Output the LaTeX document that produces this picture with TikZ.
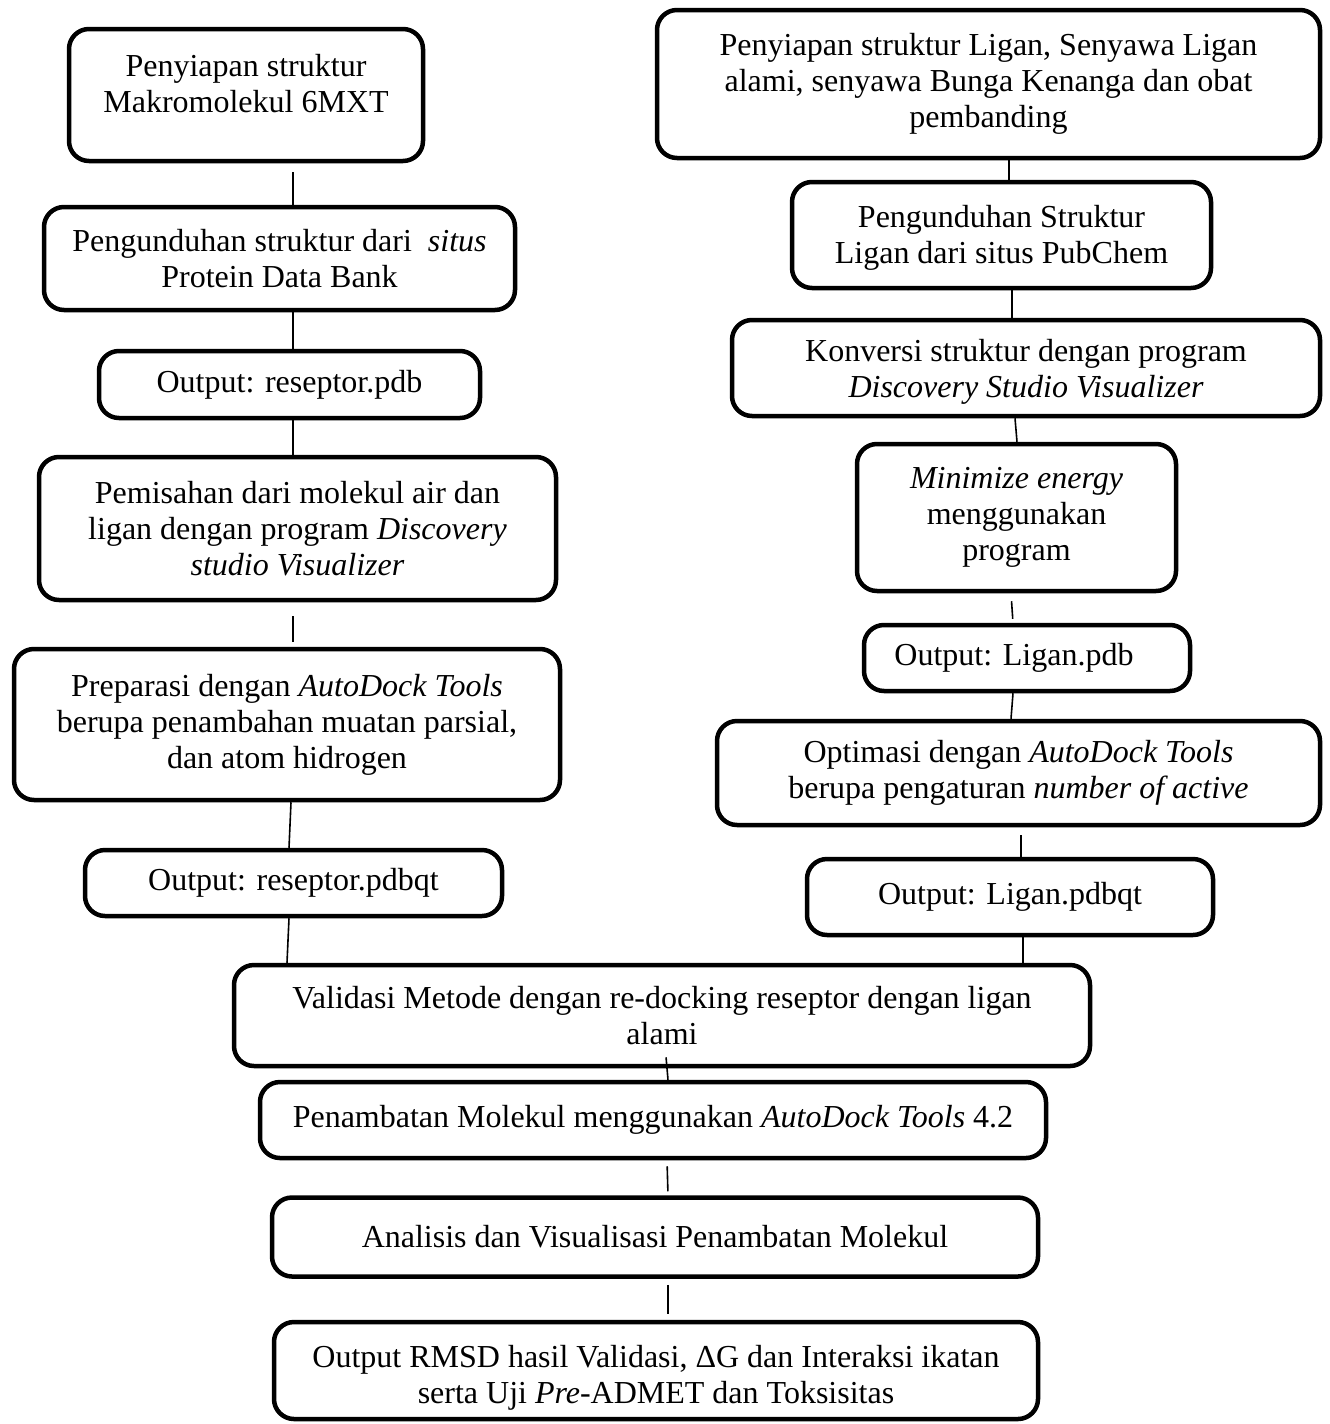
\documentclass[tikz,border=0pt]{standalone}
\usepackage{fontspec}
\setmainfont{Liberation Serif}
\usepackage{tikz}
\usetikzlibrary{positioning}

\begin{document}
\begin{tikzpicture}[
    x=1pt, y=-1pt,
    flowbox/.style={
        draw,
        rounded corners=20pt,
        line width=4.5pt,
        align=center,
        inner sep=0pt,
        font=\fontsize{32}{36}\selectfont
    },
    conn/.style={line width=1.6pt}
]
\useasboundingbox (0,0) rectangle (1330,1424);

% left column: receptor
\node[flowbox, minimum width=354, minimum height=132, text depth=24pt] (mak) at (246,95)
    {Penyiapan struktur\\Makromolekul 6MXT};
\node[flowbox, minimum width=471, minimum height=103] (pdbank) at (279.5,258.5)
    {Pengunduhan struktur dari \ \textit{situs}\\Protein Data Bank};
\node[flowbox, minimum width=381, minimum height=67] (respdb) at (289.5,384.5)
    {Output: reseptor.pdb};
\node[flowbox, minimum width=517, minimum height=143] (pisah) at (297.5,528.5)
    {Pemisahan dari molekul air dan\\ligan dengan program \textit{Discovery}\\\textit{studio Visualizer}};
\node[flowbox, minimum width=546, minimum height=151] (prep) at (287,724.5)
    {Preparasi dengan \textit{AutoDock Tools}\\berupa penambahan muatan parsial,\\dan atom hidrogen};
\node[flowbox, minimum width=417, minimum height=66] (respdbqt) at (293.5,883)
    {Output: reseptor.pdbqt};

% right column: ligand
\node[flowbox, minimum width=663, minimum height=148] (lig) at (988.5,84)
    {Penyiapan struktur Ligan, Senyawa Ligan\\alami, senyawa Bunga Kenanga dan obat\\pembanding};
\node[flowbox, minimum width=419, minimum height=106, text height=64pt] (pubchem) at (1001.5,235)
    {Pengunduhan Struktur\\Ligan dari situs PubChem};
\node[flowbox, minimum width=588, minimum height=96, text height=66pt] (konv) at (1026,368)
    {Konversi struktur dengan program\\\textit{Discovery Studio Visualizer}};
\node[flowbox, minimum width=319, minimum height=147] (mini) at (1016.5,517.5)
    {\textit{Minimize energy}\\menggunakan\\program};
\node[flowbox, minimum width=326, minimum height=66] (ligpdb) at (1027,658)
    {Output: Ligan.pdb\hspace*{26pt}};
\node[flowbox, minimum width=603, minimum height=104] (opt) at (1018.5,773)
    {Optimasi dengan \textit{AutoDock Tools}\\berupa pengaturan \textit{number of active}};
\node[flowbox, minimum width=406, minimum height=76] (ligpdbqt) at (1010,897)
    {Output: Ligan.pdbqt};

% bottom column
\node[flowbox, minimum width=856, minimum height=101] (valid) at (662,1015.5)
    {Validasi Metode dengan re-docking reseptor dengan ligan\\alami};
\node[flowbox, minimum width=786, minimum height=76] (tambat) at (653,1120)
    {Penambatan Molekul menggunakan \textit{AutoDock Tools} 4.2};
\node[flowbox, minimum width=766, minimum height=79] (anal) at (655,1237)
    {Analisis dan Visualisasi Penambatan Molekul};
\node[flowbox, minimum width=764, minimum height=97, text height=72pt] (hasil) at (656,1370.5)
    {Output RMSD hasil Validasi, ΔG dan Interaksi ikatan\\serta Uji \textit{Pre}-ADMET dan Toksisitas};

% connectors
\draw[conn, shorten <=9pt] (mak.south -| 293,0) -- (pdbank.north -| 293,0);
\draw[conn] (pdbank.south -| 293,0) -- (respdb.north -| 293,0);
\draw[conn] (respdb.south -| 293,0) -- (pisah.north -| 293,0);
\draw[conn, shorten <=14pt, shorten >=5pt] (pisah.south -| 293,0) -- (prep.north -| 293,0);
\draw[conn] (prep.south -| 291,0) -- (respdbqt.north -| 289,0);
\draw[conn] (respdbqt.south -| 289,0) -- (valid.north -| 287,0);

\draw[conn] (lig.south -| 1009,0) -- (pubchem.north -| 1009,0);
\draw[conn] (pubchem.south -| 1012,0) -- (konv.north -| 1012,0);
\draw[conn] (konv.south -| 1015,0) -- (mini.north -| 1017,0);
\draw[conn, shorten <=8pt, shorten >=4pt] (mini.south -| 1011,0) -- (ligpdb.north -| 1013,0);
\draw[conn] (ligpdb.south -| 1013,0) -- (opt.north -| 1011,0);
\draw[conn, shorten <=8pt] (opt.south -| 1021,0) -- (ligpdbqt.north -| 1021,0);
\draw[conn] (ligpdbqt.south -| 1023,0) -- (valid.north -| 1023,0);

\draw[conn, shorten <=-11pt] (valid.south -| 667,0) -- (tambat.north -| 668,0);
\draw[conn, shorten <=6pt, shorten >=4pt] (tambat.south -| 667,0) -- (anal.north -| 668,0);
\draw[conn, shorten <=6pt, shorten >=6pt] (anal.south -| 668,0) -- (hasil.north -| 668,0);
\end{tikzpicture}
\end{document}
